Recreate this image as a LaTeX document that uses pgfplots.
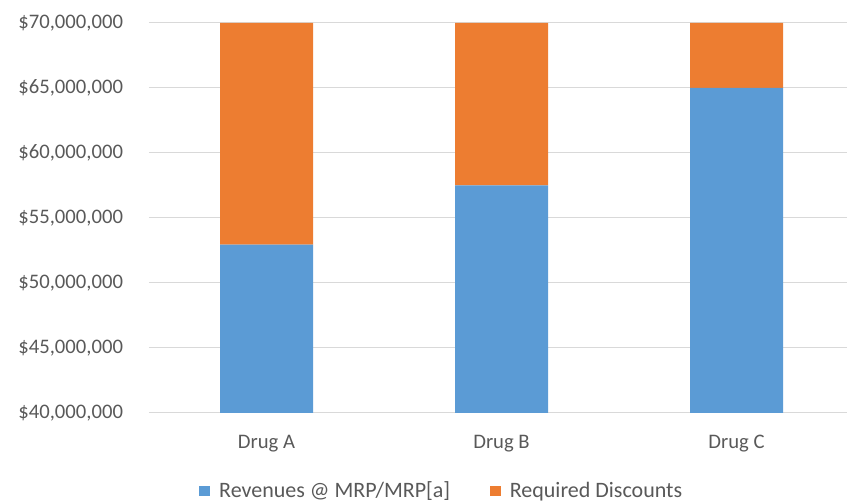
\documentclass[border=0pt]{standalone}
\usepackage{pgfplots}
\pgfplotsset{compat=1.18}
\usepackage{fontspec}
\setmainfont{Carlito}
\definecolor{barblue}{HTML}{5B9BD5}
\definecolor{barorange}{HTML}{ED7D31}
\definecolor{gridgray}{HTML}{D9D9D9}
\definecolor{textgray}{HTML}{595959}
\begin{document}
\begin{tikzpicture}[x=1pt,y=1pt]
  \begin{axis}[
    scale only axis,
    width=523.5pt,
    height=292.5pt,
    at={(0,0)}, anchor=south west,
    ybar stacked,
    bar width=69.75pt,
    xmin=-0.5, xmax=2.47,
    ymin=40, ymax=70,
    xtick=data,
    xticklabels={Drug A, Drug B, Drug C},
    ytick={40,45,50,55,60,65,70},
    yticklabels={{\$40,000,000},{\$45,000,000},{\$50,000,000},{\$55,000,000},{\$60,000,000},{\$65,000,000},{\$70,000,000}},
    ymajorgrids,
    grid style={gridgray, line width=0.75pt},
    axis line style={draw=none},
    major tick length=0pt,
    tick label style={font=\fontsize{15.5}{17}\selectfont, text=textgray},
    yticklabel style={xshift=-16pt},
    xticklabel style={yshift=-13pt},
    legend style={at={(0.42,-0.2)}, anchor=center, draw=none,
      legend columns=-1, font=\fontsize{16.5}{18}\selectfont, text=textgray,
      /tikz/every odd column/.append style={column sep=5pt},
      /tikz/every even column/.append style={column sep=28pt}},
    legend image code/.code={\fill[#1] (0pt,-4pt) rectangle (7.8pt,4pt);},
    clip=false,
  ]
    \addplot[fill=barblue, draw=none] coordinates {(0,52.95) (1,57.5) (2,65)};
    \addplot[fill=barorange, draw=none] coordinates {(0,17.05) (1,12.5) (2,5)};
    \draw[gridgray, line width=0.75pt] (axis cs:-0.5,40) -- (axis cs:2.47,40);
    \legend{Revenues @ MRP/MRP[a], Required Discounts}
  \end{axis}
  \pgfresetboundingbox
  \path (-111.75pt,-66.75pt) rectangle (523.5pt,309.75pt);
\end{tikzpicture}
\end{document}
